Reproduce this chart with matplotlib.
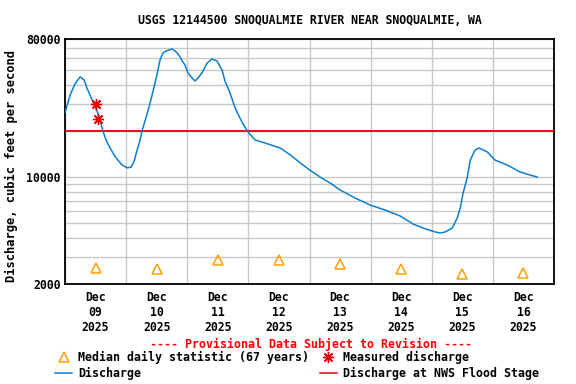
import matplotlib
matplotlib.use("Agg")
import matplotlib.pyplot as plt
import matplotlib.dates as mdates
from matplotlib.lines import Line2D
from matplotlib.ticker import FixedLocator, NullFormatter
import pandas as pd

# hours since 2025-12-09 00:00 and discharge (cfs)
hours = [0, 2.0, 3.9, 5.9, 7.5, 8.6, 11.0, 13.0, 14.9, 16.1, 17.7, 19.2, 20.8,
         22.4, 24.4, 25.9, 27.1, 28.3, 29.5, 30.2, 31.8, 33.4, 34.6, 36.1,
         37.3, 38.5, 39.7, 40.9, 42.0, 43.2, 44.0, 45.2, 46.0, 47.1, 48.3,
         49.9, 51.1, 52.2, 53.8, 55.8, 57.7, 59.7, 61.7, 62.8, 64.8, 66.8,
         68.3, 69.9, 71.9, 74.6, 78.6, 84.5, 88.4, 92.3, 96.2, 100.2, 104.1,
         108.0, 113.9, 119.8, 125.7, 131.6, 136.7, 140.6, 145.3, 147.3, 149.3,
         152.0, 154.0, 155.2, 156.3, 157.9, 159.1, 161.0, 162.6, 165.8, 168.9,
         173.6, 178.7, 185.4]
discharge = [26300, 34400, 40600, 45200, 43200, 38300, 31000, 25900, 20000,
             17500, 15500, 14000, 12900, 12000, 11500, 11600, 12600, 15000,
             17500, 20000, 24400, 30500, 36600, 46500, 58300, 64900, 66800,
             67800, 68900, 66800, 64900, 61000, 57400, 54100, 48000, 44500,
             42500, 44500, 48000, 55700, 59200, 57400, 50100, 42500, 35500,
             28300, 25100, 22200, 19700, 17500, 16700, 15500, 14000, 12400,
             11100, 10000, 9150, 8240, 7300, 6570, 6090, 5570, 4930, 4640,
             4380, 4310, 4380, 4640, 5400, 6280, 7870, 9870, 12900, 15000,
             15500, 14600, 12900, 12000, 10800, 10000]

measured_hours = [12.1, 13.1]
measured_values = [29900, 23900]

median_days = ["2025-12-09", "2025-12-10", "2025-12-11", "2025-12-12",
               "2025-12-13", "2025-12-14", "2025-12-15", "2025-12-16"]
median_values = [2560, 2500, 2870, 2870, 2700, 2510, 2320, 2360]

flood_stage = 20000

start = pd.Timestamp("2025-12-09")
times = start + pd.to_timedelta(hours, unit="h")
meas_times = start + pd.to_timedelta(measured_hours, unit="h")
median_times = pd.to_datetime(median_days) + pd.Timedelta(hours=12)

plt.rcParams["font.family"] = "DejaVu Sans Mono"
plt.rcParams["font.weight"] = "bold"
fs = 8.3

fig = plt.figure(figsize=(5.76, 3.84), dpi=100)
ax = fig.add_axes([65 / 576, 100 / 384, 489 / 576, 245 / 384])

ax.set_yscale("log")
ax.set_ylim(2000, 80000)
ax.set_xlim(start, start + pd.Timedelta(days=8))

ax.yaxis.set_major_locator(FixedLocator([2000, 10000, 80000]))
ax.set_yticklabels(["2000", "10000", "80000"])
minor_y = [3000, 4000, 5000, 6000, 7000, 8000, 9000,
           20000, 30000, 40000, 50000, 60000, 70000]
ax.yaxis.set_minor_locator(FixedLocator(minor_y))
ax.yaxis.set_minor_formatter(NullFormatter())

ax.xaxis.set_major_locator(mdates.HourLocator(byhour=12))
ax.xaxis.set_major_formatter(mdates.DateFormatter("%b\n%d\n%Y"))
ax.xaxis.set_minor_locator(mdates.DayLocator())

ax.grid(which="minor", color="#c8c8c8", linewidth=1.0)
ax.grid(which="major", axis="y", color="#c8c8c8", linewidth=1.0)
ax.set_axisbelow(True)
ax.tick_params(which="both", length=0, labelsize=fs, pad=3)
ax.tick_params(axis="x", pad=5)
for lab in ax.get_xticklabels() + ax.get_yticklabels():
    lab.set_fontweight("bold")
for sp in ax.spines.values():
    sp.set_linewidth(1.3)

ax.axhline(flood_stage, color="#e60000", linewidth=1.3, zorder=3)
ax.plot(times, discharge, color="#0a7fd0", linewidth=1.1, zorder=4)
ax.plot(median_times, median_values, linestyle="none", marker="^",
        markersize=7.5, markerfacecolor="none", markeredgecolor="#ffa000",
        markeredgewidth=1.1, zorder=5)
ax.plot(meas_times, measured_values, linestyle="none", marker=(8, 2, 0),
        markersize=8, color="#e60000", markeredgewidth=1.0, zorder=6)
ax.plot(meas_times, measured_values, linestyle="none", marker="o",
        markersize=2.5, color="#e60000", zorder=6)

ax.set_ylabel("Discharge, cubic feet per second", fontsize=fs + 0.4,
              fontweight="bold")
ax.yaxis.set_label_coords(-47 / 489, 0.48)

fig.text(310 / 576, 1 - 20 / 384, "USGS 12144500 SNOQUALMIE RIVER NEAR SNOQUALMIE, WA",
         ha="center", va="center", fontsize=fs, fontweight="bold")

fig.text(311 / 576, 1 - 344 / 384, "---- Provisional Data Subject to Revision ----",
         ha="center", va="center", fontsize=fs + 0.1, fontweight="bold",
         color="#ff0000")

# legend rows
lfs = fs + 0.1
r1 = 1 - 357 / 384
r2 = 1 - 373 / 384
fig.add_artist(Line2D([63.5 / 576], [r1], transform=fig.transFigure,
                      marker="^", markersize=7.5, markerfacecolor="none",
                      markeredgecolor="#ffa000", markeredgewidth=1.1))
fig.text(78 / 576, r1, "Median daily statistic (67 years)", ha="left",
         va="center", fontsize=lfs, fontweight="bold")
fig.add_artist(Line2D([328 / 576], [r1], transform=fig.transFigure,
                      marker=(8, 2, 0), markersize=8, color="#e60000",
                      markeredgewidth=1.0))
fig.text(343 / 576, r1, "Measured discharge", ha="left", va="center",
         fontsize=lfs, fontweight="bold")
fig.add_artist(Line2D([54.5 / 576, 72 / 576], [r2, r2], transform=fig.transFigure,
                      color="#0a7fd0", linewidth=1.1))
fig.text(78 / 576, r2, "Discharge", ha="left", va="center",
         fontsize=lfs, fontweight="bold")
fig.add_artist(Line2D([320 / 576, 337 / 576], [r2, r2], transform=fig.transFigure,
                      color="#e60000", linewidth=1.1))
fig.text(343 / 576, r2, "Discharge at NWS Flood Stage", ha="left", va="center",
         fontsize=lfs, fontweight="bold")

fig.savefig("out.png", dpi=100)
